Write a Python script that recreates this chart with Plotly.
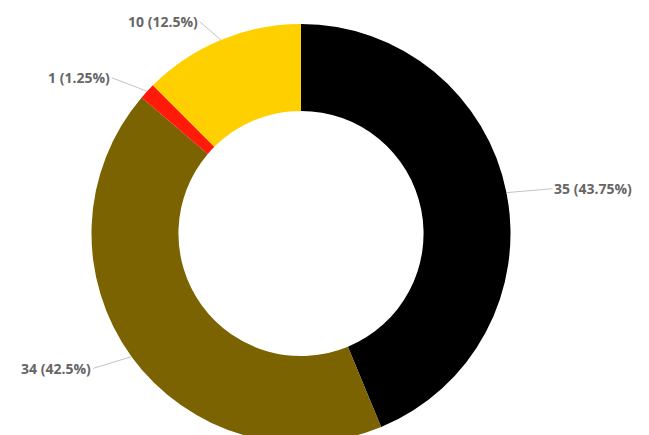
import math
import plotly.graph_objects as go

# ---- data ----
categories = ["Category A", "Category B", "Category C", "Category D"]
values = [35, 34, 1, 10]
colors = ["#000000", "#7a6300", "#ff1a0a", "#ffd000"]

total = sum(values)
label_texts = [f"{v} ({v / total * 100:g}%)" for v in values]

W, H = 649, 435
margin_t, margin_b = 16, 0
plot_h = H - margin_t - margin_b
radius_px = plot_h / 2
center_px_x = 293
dom_x1 = 2 * center_px_x / W

fig = go.Figure(
    go.Pie(
        labels=categories,
        values=values,
        marker=dict(colors=colors, line=dict(width=0)),
        hole=0.585,
        sort=False,
        direction="clockwise",
        rotation=0,
        textinfo="none",
        hoverinfo="label+value+percent",
        domain=dict(x=[0, dom_x1], y=[0, 1]),
        showlegend=False,
    )
)

# leader-line labels placed from slice mid-angles
cx = dom_x1 / 2
cy = 0.5
rx = radius_px / W
ry = radius_px / plot_h
cum = 0
annotations = []
for v, txt in zip(values, label_texts):
    mid = (cum + v / 2) / total * 2 * math.pi
    cum += v
    s, c = math.sin(mid), math.cos(mid)
    annotations.append(
        dict(
            x=cx + rx * s,
            y=cy + ry * c,
            xref="paper",
            yref="paper",
            text=f"<b>{txt}</b>",
            showarrow=True,
            arrowhead=0,
            arrowwidth=1,
            arrowcolor="#c4c4c4",
            ax=46 if s >= 0 else -40 * abs(s) - 6,
            ay=-20 * c,
            font=dict(family="Open Sans, sans-serif", size=14, color="#666666"),
            xanchor="left" if s >= 0 else "right",
        )
    )

fig.update_layout(
    width=W,
    height=H,
    margin=dict(l=0, r=0, t=margin_t, b=margin_b),
    paper_bgcolor="white",
    plot_bgcolor="white",
    annotations=annotations,
)

fig.write_html("out.html")
